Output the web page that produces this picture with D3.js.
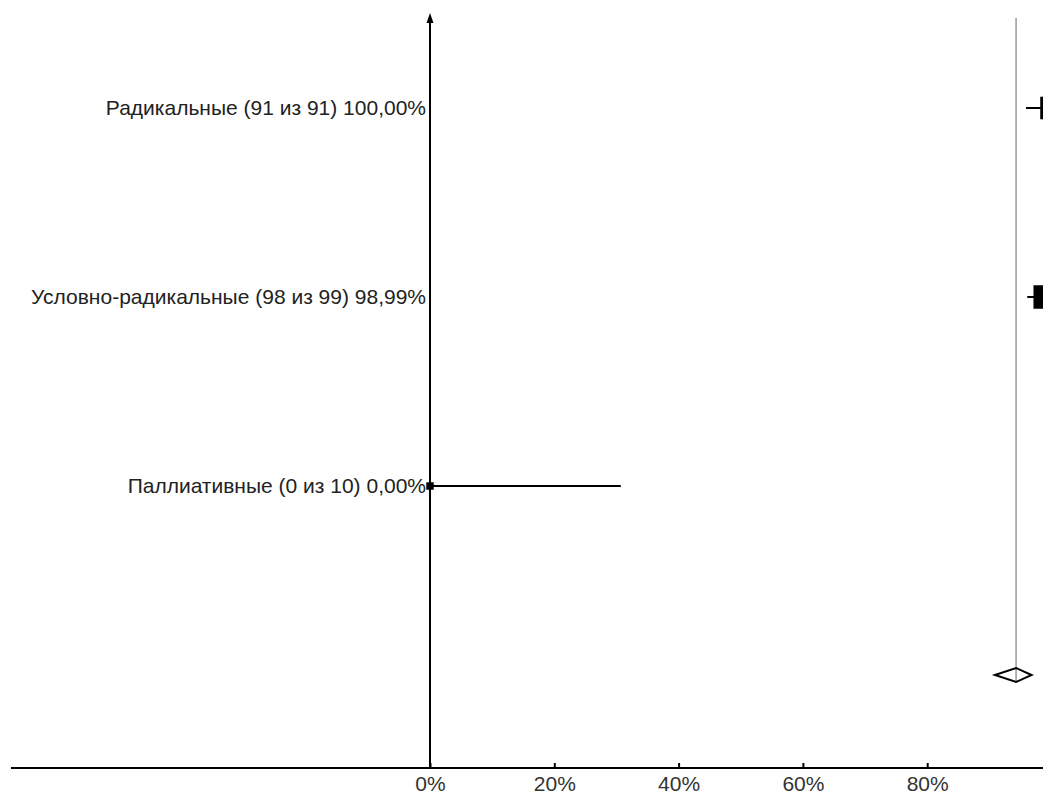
<!DOCTYPE html>
<html>
<head>
<meta charset="utf-8">
<script src="https://cdn.jsdelivr.net/npm/d3@7"></script>
<style>
  body { margin: 0; background: #fff; }
  svg { display: block; }
</style>
</head>
<body>
<svg id="drawing_region"></svg>
<script>
// rows of the forest plot
const labels = [
    'Радикальные (91 из 91) 100,00%',
    'Условно-радикальные (98 из 99) 98,99%',
    'Паллиативные (0 из 10) 0,00%'
];
const counts = [91, 99, 10];
const estimates = [1.0, 0.9899, 0.0];
const ciLow = [0.959, 0.961, 0.0];
const ciHigh = [1.0, 1.0, 0.307];

// pooled estimate (diamond)
const pooled = { est: 0.943, low: 0.909, high: 0.968 };

const xTicks = [0, 0.2, 0.4, 0.6, 0.8];

const config = {
    width: 1043,
    height: 794,
    x0: 430,
    axisY: 768
};

const svg = d3.select('#drawing_region')
    .attr('width', config.width)
    .attr('height', config.height);

const xscale = d3.scaleLinear()
    .domain([0, 1])
    .range([config.x0, 1051.5]);

const yscale = d3.scalePoint()
    .domain(d3.range(4))
    .range([108, 675]);

const sizeScale = d3.scaleSqrt()
    .domain([0, d3.max(counts)])
    .range([0, 23.5]);

// clip everything to the drawing area so things past 100% are cut
svg.append('defs').append('clipPath')
    .attr('id', 'plot-clip')
    .append('rect')
    .attr('x', 0).attr('y', 0)
    .attr('width', config.width).attr('height', config.height);

const plot = svg.append('g').attr('clip-path', 'url(#plot-clip)');

// pooled reference line
plot.append('line')
    .attr('x1', xscale(pooled.est))
    .attr('x2', xscale(pooled.est))
    .attr('y1', 18)
    .attr('y2', yscale(3) + 6)
    .attr('stroke', '#999')
    .attr('stroke-width', 1.5);

// x axis
const xaxis = d3.axisBottom(xscale)
    .tickValues(xTicks)
    .tickFormat(d => Math.round(d * 100) + '%')
    .tickSize(0)
    .tickPadding(10);

const xaxis_group = svg.append('g')
    .attr('transform', `translate(0, ${config.axisY})`)
    .call(xaxis);

xaxis_group.select('.domain').remove();
xaxis_group.append('line')
    .attr('x1', 11).attr('x2', config.width)
    .attr('stroke', '#000').attr('stroke-width', 2);

xaxis_group.selectAll('.tick')
    .append('line')
    .attr('y1', -5).attr('y2', 0)
    .attr('stroke', '#000').attr('stroke-width', 2);

xaxis_group.selectAll('.tick text')
    .attr('font-family', 'Liberation Sans, Arial, sans-serif')
    .attr('font-size', 21)
    .attr('fill', '#333')
    .attr('dy', '0.6em');

// y axis with arrow
svg.append('line')
    .attr('x1', config.x0).attr('x2', config.x0)
    .attr('y1', config.axisY).attr('y2', 20)
    .attr('stroke', '#000').attr('stroke-width', 2);

svg.append('path')
    .attr('d', `M${config.x0},13 L${config.x0 - 3.5},23 L${config.x0 + 3.5},23 Z`)
    .attr('fill', '#000');

// confidence intervals
plot.selectAll('line.ci')
    .data(counts)
    .enter()
    .append('line')
    .attr('class', 'ci')
    .attr('x1', (d, i) => xscale(ciLow[i]))
    .attr('x2', (d, i) => xscale(ciHigh[i]))
    .attr('y1', (d, i) => yscale(i))
    .attr('y2', (d, i) => yscale(i))
    .attr('stroke', '#000')
    .attr('stroke-width', 2);

// squares sized by n
plot.selectAll('rect.point')
    .data(counts)
    .enter()
    .append('rect')
    .attr('class', 'point')
    .attr('x', (d, i) => xscale(estimates[i]) - sizeScale(d) / 2)
    .attr('y', (d, i) => yscale(i) - sizeScale(d) / 2)
    .attr('width', d => sizeScale(d))
    .attr('height', d => sizeScale(d))
    .attr('fill', '#000');

// labels
svg.selectAll('text.label')
    .data(labels)
    .enter()
    .append('text')
    .attr('class', 'label')
    .attr('x', config.x0 - 4)
    .attr('y', (d, i) => yscale(i))
    .attr('dy', '0.35em')
    .attr('text-anchor', 'end')
    .attr('font-family', 'Liberation Sans, Arial, sans-serif')
    .attr('font-size', 21)
    .attr('fill', '#222')
    .text(d => d);

// pooled diamond
const dy = yscale(3);
plot.append('path')
    .attr('d', `M${xscale(pooled.low)},${dy} L${xscale(pooled.est)},${dy - 7} L${xscale(pooled.high)},${dy} L${xscale(pooled.est)},${dy + 7} Z`)
    .attr('fill', 'none')
    .attr('stroke', '#000')
    .attr('stroke-width', 2);
</script>
</body>
</html>
